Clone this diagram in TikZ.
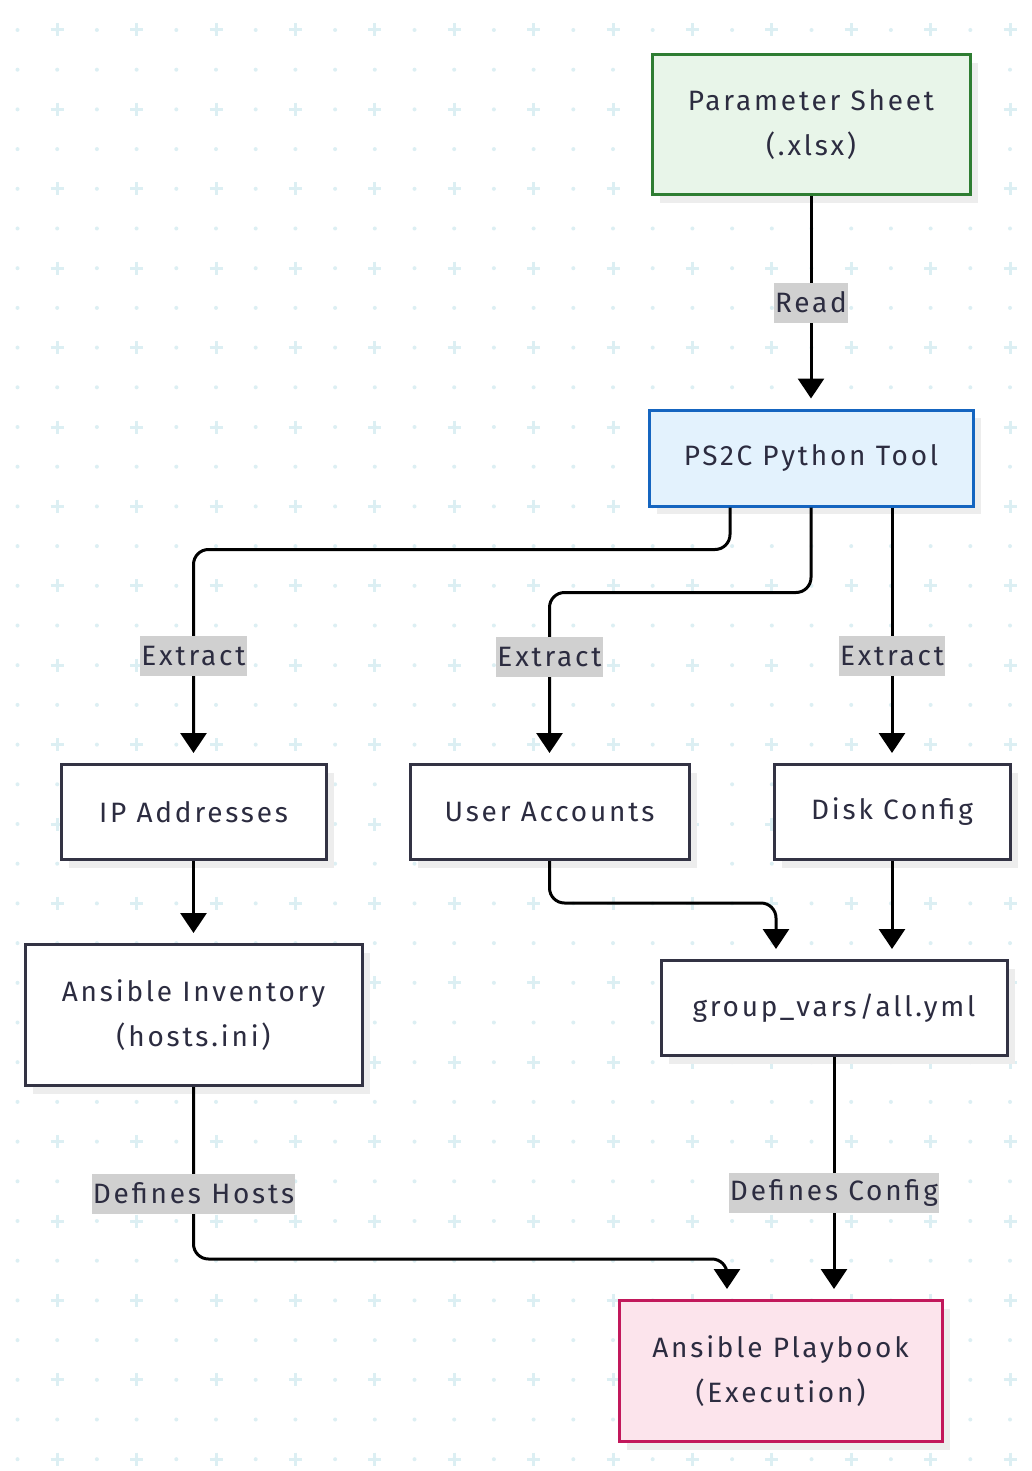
\documentclass[tikz,border=0pt]{standalone}
\usepackage{fontspec}
\setmainfont{Fira Sans}[LetterSpace=10]
\usepackage{tikz}
\usetikzlibrary{arrows.meta, positioning, shadows}
\usepackage{xcolor}
\definecolor{inkdark}{RGB}{44, 44, 64}
\definecolor{edgedark}{RGB}{51, 51, 68}
\definecolor{gridtint}{RGB}{220, 239, 243}
\definecolor{sheetfill}{RGB}{232, 245, 233}
\definecolor{sheetline}{RGB}{46, 125, 50}
\definecolor{toolfill}{RGB}{227, 242, 253}
\definecolor{toolline}{RGB}{21, 101, 192}
\definecolor{playfill}{RGB}{252, 228, 236}
\definecolor{playline}{RGB}{194, 24, 91}
\definecolor{lblfill}{RGB}{208, 208, 208}

\begin{document}
\begin{tikzpicture}[
			x=1pt, y=-1pt,
			>={Triangle[length=20pt, width=26pt]},
			font=\fontsize{28}{45}\selectfont,
			box/.style={draw=edgedark, fill=white, line width=3pt, text=inkdark,
				align=center, inner sep=0pt,
				drop shadow={shadow xshift=8pt, shadow yshift=-8pt, fill=black!7, opacity=1}},
			flow/.style={->, line width=3pt, rounded corners=15pt, shorten >=10pt},
			lbl/.style={sharp corners, fill=lblfill, text=inkdark, inner xsep=1pt, inner ysep=0pt,
				minimum height=40pt}
		]

		%% Canvas and dotted grid
		\useasboundingbox[fill=white] (0,0) rectangle (1032,1471);
		\foreach \i in {0,...,25} {
			\foreach \j in {0,...,36} {
				\fill[gridtint] (17.5+39.7*\i, 30+39.7*\j) circle (2pt);
			}
		}
		\foreach \i in {1,3,...,25} {
			\foreach \j in {0,2,...,36} {
				\draw[gridtint, line width=3pt]
					(17.5+39.7*\i-6.5, 30+39.7*\j) -- ++(13,0)
					(17.5+39.7*\i, 30+39.7*\j-6.5) -- ++(0,13);
			}
		}

		%% Nodes
		\node[box, draw=sheetline, fill=sheetfill, minimum width=318pt, minimum height=140pt]
			(sheet) at (811,125) {Parameter Sheet\\(.xlsx)};
		\node[box, draw=toolline, fill=toolfill, minimum width=324pt, minimum height=96pt]
			(tool) at (811,458) {PS2C Python Tool};

		\node[box, minimum width=265pt, minimum height=95pt]
			(ipaddr) at (193.5,812) {IP Addresses};
		\node[box, minimum width=279pt, minimum height=95pt]
			(users) at (549.5,812) {User Accounts};
		\node[box, minimum width=236pt, minimum height=95pt]
			(disks) at (892,812) {Disk Config};

		\node[box, minimum width=337pt, minimum height=141pt]
			(inventory) at (193.5,1015) {Ansible Inventory\\(hosts.ini)};
		\node[box, minimum width=346pt, minimum height=95pt]
			(groupvars) at (834,1008) {group\_vars/all.yml};

		\node[box, draw=playline, fill=playfill, minimum width=323pt, minimum height=141pt]
			(playbook) at (780.5,1371) {Ansible Playbook\\(Execution)};

		%% Connectors
		\draw[flow] (sheet) -- node[lbl]{Read} (tool);

		\draw[flow] ([xshift=-81pt]tool.south) -- ++(0,42)
			-| node[lbl, pos=0.75]{Extract} (ipaddr.north);
		\draw[flow] (tool.south) -- ++(0,85)
			-| node[lbl, pos=0.69]{Extract} (users.north);
		\draw[flow] (tool.south -| disks.north) -- node[lbl, pos=0.583]{Extract} (disks.north);

		\draw[flow] (ipaddr) -- (inventory);
		\draw[flow] (users.south) -- ++(0,42) -| ([xshift=-58pt]groupvars.north);
		\draw[flow] (disks.south) -- (disks.south |- groupvars.north);

		\draw[flow] (inventory.south) -- node[lbl, pos=0.62]{Defines Hosts} ++(0,172)
			-| ([xshift=-53.5pt]playbook.north);
		\draw[flow] (groupvars.south) -- node[lbl, pos=0.56]{Defines Config}
			(groupvars.south |- playbook.north);

		\end{tikzpicture}
\end{document}
